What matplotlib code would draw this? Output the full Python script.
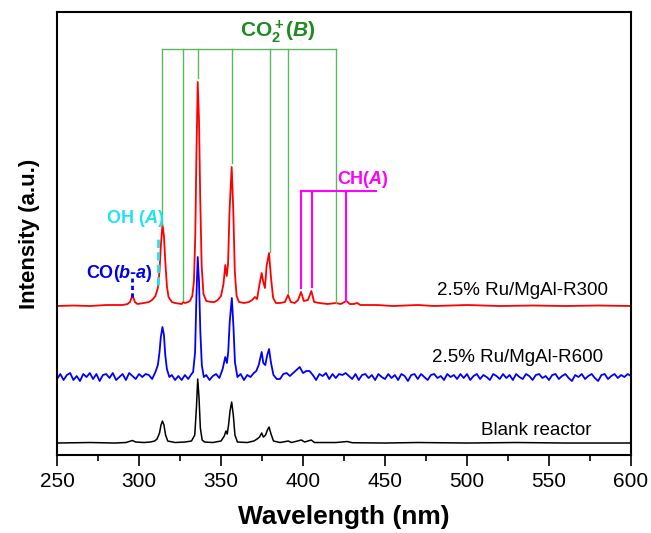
import numpy as np
import matplotlib
matplotlib.use("Agg")
import matplotlib.pyplot as plt
from matplotlib.ticker import MultipleLocator

plt.rcParams['font.family'] = ['Liberation Sans', 'DejaVu Sans']
plt.rcParams['mathtext.fontset'] = 'custom'
plt.rcParams['mathtext.rm'] = 'Liberation Sans:bold'
plt.rcParams['mathtext.it'] = 'Liberation Sans:bold:italic'
plt.rcParams['mathtext.bf'] = 'Liberation Sans:bold'

# --- spectra (intensity above each trace's own baseline, a.u.) ---
red_wl = [250, 260, 270, 280, 290, 293, 294.5, 296, 297.5, 299, 303, 306, 308, 310, 311.5, 312.5,
          313.3, 314.3, 315.2, 316, 317, 318, 320, 322, 326, 327, 328, 330, 331, 332.5, 333.5,
          334.3, 335, 335.8, 336.6, 337.3, 338.2, 339.3, 341, 344, 346, 348, 350, 351.5, 352.6,
          353.5, 354.3, 355.2, 356.5, 357.5, 358.4, 359.5, 361, 364, 367, 369, 370.7, 372, 373.5,
          374.8, 375.8, 376.8, 377.8, 379.3, 380.5, 381.8, 383.5, 386, 389, 390.9, 392.5, 395,
          397, 398.8, 400.5, 403, 405.1, 406.8, 410, 415, 420, 423, 426.5, 428.5, 431, 433, 435,
          445, 455, 470, 480, 500, 520, 540, 560, 580, 600]
red_int = [0, 0.5, 0, 1, 1, 2, 4, 11, 4, 2, 3, 4, 6, 10, 18, 35,
           60, 81, 70, 45, 20, 9, 4, 3, 2, 4, 3, 4, 5, 10, 25,
           70, 150, 224, 185, 110, 40, 12, 5, 4, 4, 6, 10, 22, 41,
           30, 42, 95, 139, 95, 35, 10, 4, 3, 4, 6, 9, 7, 22,
           33, 24, 18, 40, 53, 28, 8, 3, 3, 4, 11, 4, 3,
           6, 14, 5, 6, 15, 4, 3, 2, 3, 2, 5, 2, 2, 3, 1,
           1, 0, 1, 0, 1, 0, 0.5, 0, 0.5, 0]

blue_left = [-2, 3, -3, 2, 4, -3, 1, -4, 3, 0, 4, -2, 3, -4, 2, 3, -1, 4, -3, 0,
             3, -3, 4, 1, -2, 3, 0, 3]                      # 250..304 nm, step 2
blue_mid_wl = [306, 308, 310, 311.5, 312.5, 313.3, 314.3, 315.2, 316, 317, 318.5, 320, 322, 324,
               326, 328, 330, 332, 333, 334.2, 335, 335.8, 336.6, 337.4, 338.3, 339.5, 341, 343,
               345, 347, 349, 351, 352.6, 353.6, 354.4, 355.3, 356.6, 357.6, 358.5, 360, 362, 364,
               366, 368, 370, 371.5, 373, 374.8, 375.8, 377, 378.2, 379.3, 380.5, 382, 384]
blue_mid = [2, -2, 5, 12, 25, 40, 50, 42, 22, 8, 0, 2, -3, 1,
            -3, 2, -2, 3, 5, 25, 80, 120, 95, 45, 12, 0, 2, -3,
            1, 3, -1, 8, 20, 14, 25, 55, 79, 50, 15, 0, 3, -3,
            2, 0, 4, 6, 12, 25, 14, 12, 22, 28, 14, 2, -2]
blue_right = [-2, 3, 4, 1, 4, 7, 10, 4, 6, 6, 2, -3, 3, 1, 4, -2, 3, -1, 3, 2,
              4, 1, -2, 3, -3, 2, 3, -1, 2, -3, 3, 0, -2, 3, -1, 2, -3, 3, 1, -4,
              2, 3, -2, 3, 0, -3, 2, 3, -1, 1, -3, 3, 0, 2, -2, 3, -1, 3, -3, 1,
              3, -2, 2, 0, -3, 3, 1, -2, 3, -1, 2, -3, 3, 0, -2, 3, 1, -3, 2, 3,
              -1, 1, -3, 2, 3, -2, 1, 3, -1, -4, 2, 0, 3, -2, 1, 3, -1, -4, 2, 3,
              -2, 1, 3, -1, 2, 0, 3, 1]                      # 386..600 nm, step 2

black_wl = [250, 270, 285, 292, 294, 296, 298, 303, 307, 309.5, 311, 312.5, 313.4, 314.3, 315.2,
            316.2, 317.5, 322, 328, 332, 334, 335, 335.8, 336.6, 337.4, 338.5, 340, 345, 350, 352,
            353, 353.8, 354.6, 355.5, 356.5, 357.5, 358.5, 360, 366, 370, 372, 373.5, 374.8, 375.8,
            377.2, 378.3, 379.3, 380.5, 382, 386, 391, 393, 399, 401, 405, 407, 420, 427, 430, 450,
            470, 500, 530, 560, 600]
black_int = [0, 0.5, 0, 0.5, 1.5, 2.5, 1, 0.5, 1, 2, 4, 10, 18, 22, 18,
             8, 2, 0.5, 1, 2, 8, 35, 64, 45, 15, 3, 1, 0.5, 2, 7,
             12, 9, 18, 32, 41, 28, 8, 1, 0.5, 2, 4, 6, 10, 6,
             8, 13, 16, 9, 2, 0.5, 2, 0.5, 3, 1, 3, 0.5, 0.5, 1.5, 0.3, 0,
             0.5, 0, 0.5, 0, 0]

offsets = {'red': 149, 'blue': 78, 'black': 12}
labels = ['2.5% Ru/MgAl-R300', '2.5% Ru/MgAl-R600', 'Blank reactor']

# --- band assignments ---
co2_wl = [314, 327, 336, 357, 380, 391, 420]
co2_bottom = [230, 155, 377, 292, 203, 162, 152]
co2_bar = 406
ch_wl = [398.8, 405.2, 426.2]
ch_bottom = [167, 168, 154]
ch_bar = 264
ch_bar_end = 444.5
oh_wl, oh_y = 311.4, (170, 218)
co_wl, co_y = 295.9, (158, 177)

fig = plt.figure(figsize=(6.51, 5.33), dpi=100)
ax = fig.add_axes([0.0876, 0.1463, 0.8816, 0.8312])

blue_wl = list(np.arange(250, 305, 2)) + blue_mid_wl + list(np.arange(386, 601, 2))
blue_int = blue_left + blue_mid + blue_right

ax.plot(black_wl, np.array(black_int) + offsets['black'], color='black', lw=1.1)
ax.plot(blue_wl, np.array(blue_int) + offsets['blue'], color='#0000ff', lw=1.3)
ax.plot(red_wl, np.array(red_int) + offsets['red'], color='#ff0000', lw=1.3)

# CO2+ (B)
green = '#5cb85c'
for w, b in zip(co2_wl, co2_bottom):
    ax.plot([w, w], [b, co2_bar], color=green, lw=1.0)
ax.plot([co2_wl[0], co2_wl[-1]], [co2_bar, co2_bar], color=green, lw=1.0)
ax.text(384.8, 423, r'$\mathrm{CO_2^+(}\mathit{B}\mathrm{)}$', color='#1f8a1f',
        fontsize=15, ha='center', va='center')

# CH (A)
mag = '#ff00ff'
for w, b in zip(ch_wl, ch_bottom):
    ax.plot([w, w], [b, ch_bar], color=mag, lw=1.5)
ax.plot([ch_wl[0], ch_bar_end], [ch_bar, ch_bar], color=mag, lw=1.5)
ax.text(436.6, 276, r'$\mathrm{CH(}\mathit{A}\mathrm{)}$', color=mag,
        fontsize=13, ha='center', va='center')

# OH (A)
ax.plot([oh_wl, oh_wl], oh_y, color='#1ee3f0', lw=2, ls=(0, (3, 1.5)))
ax.text(297.9, 237, r'$\mathrm{OH\ (}\mathit{A}\mathrm{)}$', color='#1ee3f0',
        fontsize=13, ha='center', va='center')

# CO (b-a)
ax.plot([co_wl, co_wl], co_y, color='#0000ff', lw=2, ls=(0, (1.5, 1.2)))
ax.text(287.8, 182, r'$\mathrm{CO(}\mathit{b}$-$\mathit{a}\mathrm{)}$', color='#0000ee',
        fontsize=13, ha='center', va='center', fontweight='bold')

# series labels
ax.text(533.8, 165, labels[0], fontsize=13.5, ha='center', va='center')
ax.text(531.0, 98, labels[1], fontsize=13.5, ha='center', va='center')
ax.text(542.4, 25, labels[2], fontsize=13.5, ha='center', va='center')

ax.set_xlim(250, 600)
ax.set_ylim(0, 443)
ax.xaxis.set_major_locator(MultipleLocator(50))
ax.xaxis.set_minor_locator(MultipleLocator(25))
ax.tick_params(axis='x', which='major', direction='out', length=8, width=1.2,
               labelsize=15, pad=4)
ax.tick_params(axis='x', which='minor', direction='out', length=4, width=1.2)
ax.set_yticks([])
for s in ax.spines.values():
    s.set_linewidth(1.5)

ax.set_xlabel('Wavelength (nm)', fontsize=19, fontweight='bold', labelpad=10)
ax.set_ylabel('Intensity (a.u.)', fontsize=16, fontweight='bold', labelpad=12)

fig.savefig('out.png', dpi=100)
